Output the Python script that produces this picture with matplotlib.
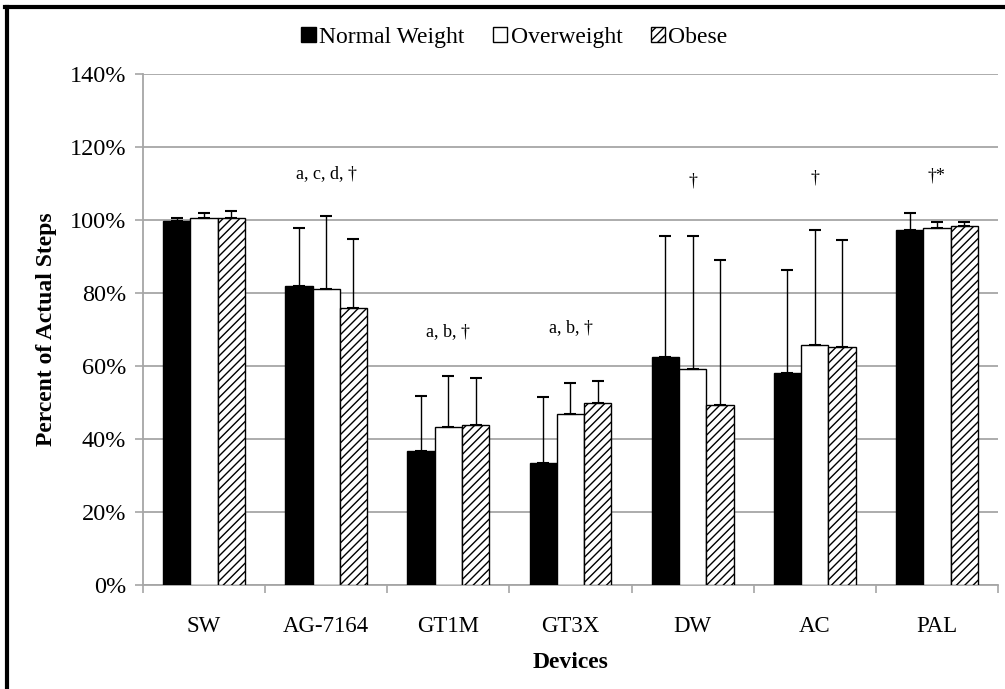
import numpy as np
import matplotlib
matplotlib.use("Agg")
from matplotlib import pyplot as plt
from matplotlib.lines import Line2D

plt.rcParams['font.family'] = ['Liberation Serif', 'DejaVu Serif']
plt.rcParams['hatch.linewidth'] = 1.0

devices = ['SW', 'AG-7164', 'GT1M', 'GT3X', 'DW', 'AC', 'PAL']
groups = ['Normal Weight', 'Overweight', 'Obese']
normal = [99.6, 81.8, 36.6, 33.4, 62.4, 58.0, 97.3]
normal_sd = [0.9, 16.0, 15.2, 18.1, 33.1, 28.1, 4.5]
over = [100.4, 81.0, 43.3, 46.7, 59.1, 65.6, 97.7]
over_sd = [1.5, 19.9, 13.8, 8.5, 36.4, 31.7, 1.6]
obese = [100.6, 75.7, 43.8, 49.9, 49.2, 65.2, 98.2]
obese_sd = [1.8, 19.1, 12.9, 5.9, 39.7, 29.3, 1.1]
notes = ['', 'a, c, d, †', 'a, b, †', 'a, b, †', '†', '†', '†*']
note_y = [0, 112.5, 69.5, 70.5, 110.5, 111.5, 112]

fig = plt.figure(figsize=(10.05, 6.89), dpi=100)
ax = fig.add_axes([0.1423, 0.151, 0.8507, 0.7422])

x = np.arange(len(devices))
w = 0.2233
grey = '#a6a6a6'
for i, (vals, sd) in enumerate([(normal, normal_sd), (over, over_sd), (obese, obese_sd)]):
    pos = x + (i - 1) * w
    fc = ['black', 'white', 'white'][i]
    hatch = [None, None, '////'][i]
    ax.bar(pos, vals, w, color=fc, edgecolor='black', linewidth=1.0, hatch=hatch, zorder=3)
    ax.errorbar(pos, vals, yerr=[np.zeros(len(sd)), sd], fmt='none', ecolor='black',
                elinewidth=1.0, capsize=4, capthick=1.5, zorder=4)

for xi, t, yy in zip(x, notes, note_y):
    if t:
        ax.text(xi, yy, t, ha='center', va='center', fontsize=13)

ax.set_xlim(-0.5, len(devices) - 0.5)
ax.set_ylim(0, 140)
ax.set_yticks(np.arange(0, 141, 20))
ax.set_yticklabels(['%d%%' % v for v in range(0, 141, 20)], fontsize=17.5)
ax.set_xticks(x)
ax.set_xticklabels(devices, fontsize=16.5)
ax.set_xticks(np.arange(-0.5, len(devices)), minor=True)
ax.tick_params(axis='x', which='major', length=0, pad=22)
ax.tick_params(axis='x', which='minor', length=6, color=grey, width=1.2)
ax.tick_params(axis='y', length=6, color=grey, width=1.2, pad=6)
ax.yaxis.grid(True, color=grey, linewidth=1.3, zorder=0)
ax.set_axisbelow(True)
for s in ['top', 'right']:
    ax.spines[s].set_visible(False)
for s in ['left', 'bottom']:
    ax.spines[s].set_color(grey)
    ax.spines[s].set_linewidth(1.3)

ax.set_ylabel('Percent of Actual Steps', fontsize=17, fontweight='bold', labelpad=9)
ax.set_xlabel('Devices', fontsize=17, fontweight='bold', labelpad=11)

handles = [plt.Rectangle((0, 0), 1, 1, facecolor='black', edgecolor='black'),
           plt.Rectangle((0, 0), 1, 1, facecolor='white', edgecolor='black'),
           plt.Rectangle((0, 0), 1, 1, facecolor='white', edgecolor='black', hatch='////')]
fig.legend(handles, groups, loc='center', bbox_to_anchor=(0.512, 0.946), ncol=3, frameon=False,
           fontsize=17, handlelength=0.6, handleheight=0.6, handletextpad=0.15, columnspacing=1.2)

fig.add_artist(Line2D([0.0065, 0.0065], [0, 0.99], color='black', linewidth=3))
fig.add_artist(Line2D([0.005, 1], [0.9895, 0.9895], color='black', linewidth=3))

fig.savefig('out.png', dpi=100)
